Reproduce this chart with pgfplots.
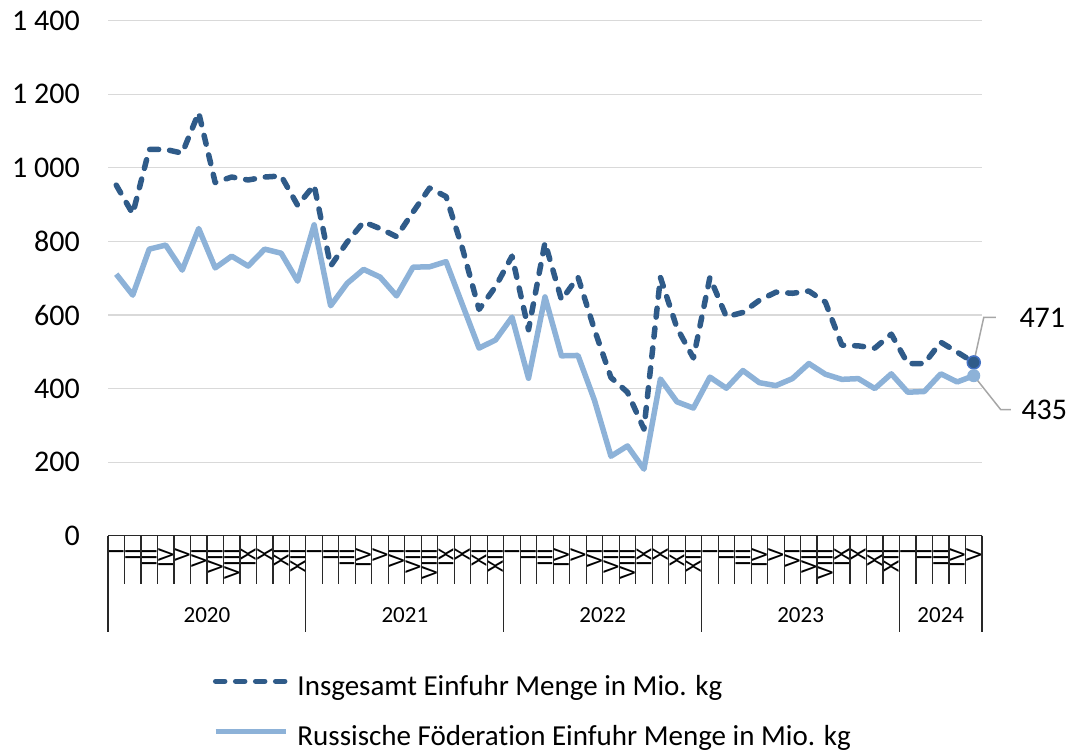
\documentclass[border=0pt]{standalone}
\usepackage{fontspec}
\setmainfont{Carlito}[Ligatures=NoCommon]
\usepackage{pgfplots}
\usepackage{pgfplotstable}
\pgfplotsset{compat=1.18}
\definecolor{darkb}{RGB}{47,91,137}
\definecolor{lightb}{RGB}{141,178,216}
\definecolor{gridc}{RGB}{217,217,217}
\definecolor{leadc}{RGB}{166,166,166}
\definecolor{outl}{RGB}{68,114,196}
\definecolor{tabc}{RGB}{40,40,40}

\pgfplotstableread{
x tot rus
0 953 711
1 875 654
2 1050 779
3 1050 790
4 1040 722
5 1150 835
6 960 728
7 975 760
8 967 733
9 975 779
10 978 768
11 898 692
12 953 845
13 733 625
14 798 686
15 853 724
16 835 703
17 813 652
18 880 730
19 945 731
20 922 745
21 780 627
22 615 510
23 677 532
24 760 594
25 560 428
26 797 649
27 641 489
28 703 490
29 560 368
30 430 216
31 390 244
32 290 181
33 702 426
34 565 364
35 483 347
36 702 431
37 595 401
38 607 449
39 640 416
40 662 408
41 659 427
42 665 468
43 635 439
44 518 425
45 516 427
46 510 400
47 548 440
48 468 390
49 468 392
50 526 440
51 499 418
52 471 435
}\datatable

\begin{document}
\begin{tikzpicture}
\begin{axis}[
  at={(108bp,217.3bp)}, anchor=south west,
  scale only axis, width=874bp, height=515bp,
  xmin=-0.5, xmax=52.5, ymin=0, ymax=1400,
  axis x line*=bottom, axis y line*=left,
  x axis line style={draw=tabc, line width=1.2bp, -},
  y axis line style={draw=none},
  ytick={0,200,...,1400},
  ymajorgrids, grid style={gridc, line width=1.2bp},
  major tick length=0pt,
  /pgf/number format/assume math mode=true,
  yticklabel style={font=\fontsize{30bp}{35bp}\selectfont, anchor=east, inner sep=0pt, xshift=-28bp, /pgf/number format/1000 sep={\ }},
  xtick={0,...,52},
  xticklabels={I,II,III,IV,V,VI,VII,VIII,IX,X,XI,XII,I,II,III,IV,V,VI,VII,VIII,IX,X,XI,XII,I,II,III,IV,V,VI,VII,VIII,IX,X,XI,XII,I,II,III,IV,V,VI,VII,VIII,IX,X,XI,XII,I,II,III,IV,V},
  xticklabel style={font=\fontsize{23bp}{27bp}\selectfont, rotate=90, anchor=east, inner sep=0pt},
  xticklabel shift=13bp,
  clip=false,
  legend cell align=left,
  legend image code/.code={\draw[#1] (0bp,7bp) -- (70bp,7bp);},
  legend style={draw=none, fill=none, at={(axis description cs:0.1201,-0.2700)}, anchor=north west,
    inner sep=0pt, outer sep=0pt, row sep=23bp,
    font=\fontsize{29bp}{34bp}\selectfont,
    nodes={inner sep=0pt, text height=21bp, text depth=6bp},
    /tikz/every odd column/.append style={column sep=9bp}},
]
\addplot[darkb, line width=5.5bp, dash pattern=on 9bp off 11bp, line cap=round, line join=round] table[x=x, y=tot] {\datatable};
\addlegendentry{Insgesamt Einfuhr Menge in Mio. kg}
\addplot[lightb, line width=5.5bp, line join=round] table[x=x, y=rus] {\datatable};
\addlegendentry{Russische Föderation Einfuhr Menge in Mio. kg}
\addplot[forget plot, only marks, mark=*, mark size=6.5bp, mark options={fill=darkb, draw=outl, line width=1.5bp}] coordinates {(52,471)};
\addplot[forget plot, only marks, mark=*, mark size=6bp, mark options={fill=lightb, draw=lightb, line width=1bp}] coordinates {(52,435)};
\draw[leadc, line width=1.5bp] (axis cs:52,471) -- ++(10bp,45bp) -- ++(12bp,0bp)
  node[anchor=west, inner sep=0pt, xshift=23bp, font=\fontsize{30bp}{35bp}\selectfont, text=black] {471};
\draw[leadc, line width=1.5bp] (axis cs:52,435) -- ++(27bp,-34bp) -- ++(10bp,0bp)
  node[anchor=west, inner sep=0pt, xshift=10bp, font=\fontsize{30bp}{35bp}\selectfont, text=black] {435};
\pgfplotsinvokeforeach{-0.5,0.5,...,52.5}{\draw[tabc, line width=1.2bp] (axis cs:#1,0) -- ++(0bp,-48bp);}
\pgfplotsinvokeforeach{-0.5,11.5,23.5,35.5,47.5,52.5}{\draw[tabc, line width=1.2bp] (axis cs:#1,0) -- ++(0bp,-96bp);}
\node[font=\fontsize{23bp}{27bp}\selectfont] at ([yshift=-79bp]axis cs:5.5,0) {2020};
\node[font=\fontsize{23bp}{27bp}\selectfont] at ([yshift=-79bp]axis cs:17.5,0) {2021};
\node[font=\fontsize{23bp}{27bp}\selectfont] at ([yshift=-79bp]axis cs:29.5,0) {2022};
\node[font=\fontsize{23bp}{27bp}\selectfont] at ([yshift=-79bp]axis cs:41.5,0) {2023};
\node[font=\fontsize{23bp}{27bp}\selectfont] at ([yshift=-79bp]axis cs:50,0) {2024};
\end{axis}
\pgfresetboundingbox
\path[use as bounding box] (0,0) rectangle (1074bp,753bp);
\end{tikzpicture}
\end{document}
